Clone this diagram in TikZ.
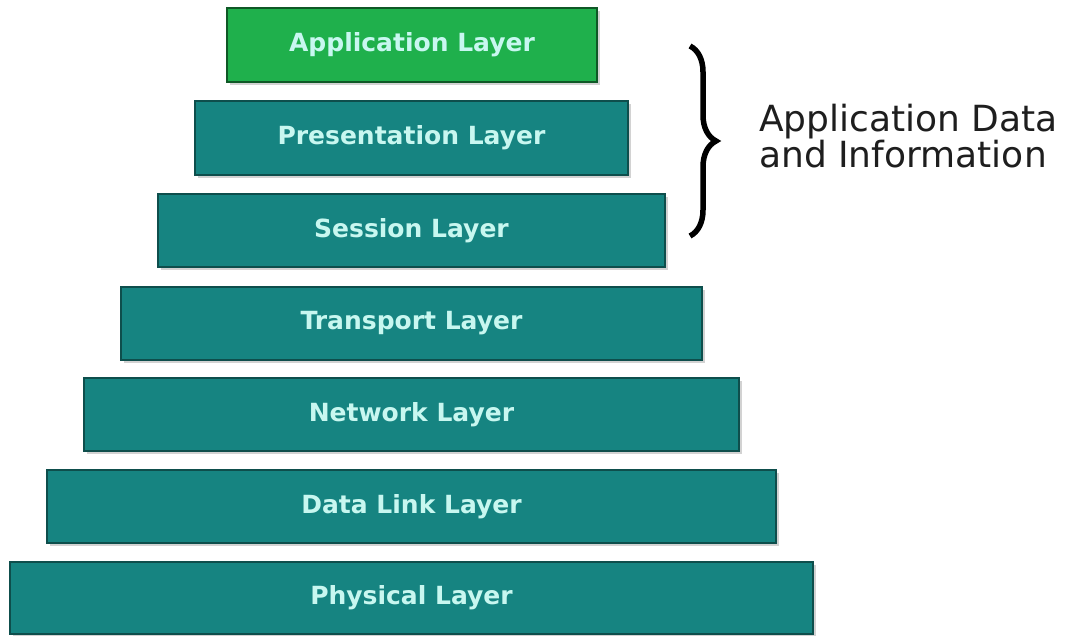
\documentclass[tikz,border=0pt]{standalone}
\usepackage{fontspec}
\setmainfont{DejaVu Sans}
\usetikzlibrary{shadows,decorations.pathreplacing}
\definecolor{teal1}{HTML}{168481}
\definecolor{green1}{HTML}{1FB04C}
\definecolor{labelc}{HTML}{C8F7F0}
\definecolor{edgec}{HTML}{0E4E4C}
\definecolor{txtc}{HTML}{1E1E1E}
\tikzset{
  layer/.style={draw=edgec, line width=1.5pt, fill=teal1, text=labelc,
    font=\fontsize{25}{28}\selectfont\bfseries, inner sep=0pt,
    drop shadow={opacity=0.35, shadow xshift=3pt, shadow yshift=-3pt}},
  toplayer/.style={layer, fill=green1, draw=green1!50!black},
  bracestyle/.style={decorate, decoration={brace, amplitude=26pt}, line width=5.5pt, draw=black},
  side/.style={text=txtc, font=\fontsize{36}{36}\selectfont, align=left, inner sep=0pt}
}
\begin{document}
\begin{tikzpicture}[x=1pt,y=-1pt]
\useasboundingbox (0,0) rectangle (1068,636);
\fill[white] (0,0) rectangle (1068,636);
\node[toplayer, minimum width=370pt, minimum height=74pt] (app) at (412,45) {Application Layer};
\node[layer, minimum width=433pt, minimum height=74pt] (pres) at (411.5,138) {Presentation Layer};
\node[layer, minimum width=507pt, minimum height=73pt] (sess) at (411.5,230.5) {Session Layer};
\node[layer, minimum width=581pt, minimum height=73pt] (trans) at (411.5,323.5) {Transport Layer};
\node[layer, minimum width=655pt, minimum height=73pt] (net) at (411.5,414.5) {Network Layer};
\node[layer, minimum width=729pt, minimum height=73pt] (dl) at (411.5,506.5) {Data Link Layer};
\node[layer, minimum width=803pt, minimum height=72pt] (phys) at (411.5,598) {Physical Layer};
\coordinate (bt) at (690,46);
\coordinate (bb) at (690,236);
\draw[bracestyle] (bt) -- (bb);
\node[side, anchor=west] (info) at (759,136) {Application Data\\and Information};
\end{tikzpicture}
\end{document}
